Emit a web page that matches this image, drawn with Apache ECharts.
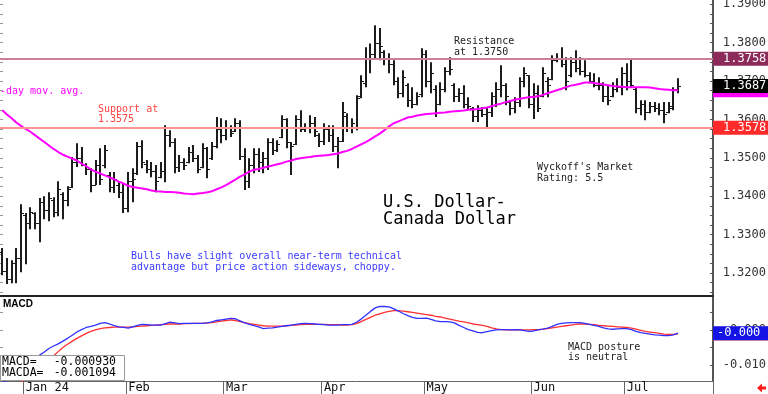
<!DOCTYPE html>
<html><head><meta charset="utf-8">
<script src="https://cdn.jsdelivr.net/npm/echarts@6/dist/echarts.min.js"></script>
<style>html,body{margin:0;padding:0;background:#fff}#c{width:768px;height:394px}</style>
</head><body><div id="c"></div>
<script>
// ---- data ----
const highs=[1.3265,1.3239,1.3233,1.3265,1.3379,1.3356,1.3371,1.3358,1.3395,1.3400,
1.3410,1.3397,1.3439,1.3410,1.3426,1.3502,1.3538,1.3528,1.3486,1.3473,
1.3494,1.3525,1.3533,1.3463,1.3463,1.3437,1.3434,1.3463,1.3473,1.3541,
1.3546,1.3494,1.3489,1.3481,1.3489,1.3585,1.3572,1.3551,1.3507,1.3499,
1.3528,1.3533,1.3507,1.3538,1.3528,1.3541,1.3606,1.3603,1.3598,1.3585,
1.3603,1.3598,1.3525,1.3499,1.3525,1.3525,1.3515,1.3551,1.3551,1.3546,
1.3611,1.3603,1.3541,1.3611,1.3624,1.3590,1.3611,1.3606,1.3564,1.3590,
1.3585,1.3585,1.3554,1.3645,1.3616,1.3603,1.3663,1.3715,1.3788,1.3798,
1.3845,1.3838,1.3780,1.3772,1.3754,1.3710,1.3728,1.3694,1.3684,1.3671,
1.3785,1.3780,1.3749,1.3689,1.3697,1.3736,1.3762,1.3694,1.3681,1.3689,
1.3658,1.3632,1.3637,1.3632,1.3632,1.3671,1.3697,1.3741,1.3694,1.3650,
1.3658,1.3710,1.3736,1.3715,1.3694,1.3689,1.3736,1.3710,1.3767,1.3772,
1.3788,1.3762,1.3762,1.3780,1.3762,1.3754,1.3723,1.3720,1.3710,1.3697,
1.3689,1.3697,1.3707,1.3736,1.3746,1.3757,1.3684,1.3650,1.3650,1.3645,
1.3645,1.3642,1.3645,1.3645,1.3684,1.3707];
const lows=[1.3194,1.3171,1.3173,1.3173,1.3202,1.3223,1.3314,1.3314,1.3280,1.3340,
1.3335,1.3345,1.3348,1.3340,1.3374,1.3421,1.3476,1.3478,1.3455,1.3410,
1.3429,1.3429,1.3473,1.3410,1.3408,1.3395,1.3356,1.3358,1.3384,1.3455,
1.3473,1.3460,1.3449,1.3410,1.3447,1.3436,1.3528,1.3460,1.3463,1.3468,
1.3486,1.3489,1.3460,1.3473,1.3447,1.3494,1.3525,1.3538,1.3546,1.3554,
1.3567,1.3494,1.3416,1.3421,1.3460,1.3463,1.3460,1.3468,1.3507,1.3515,
1.3551,1.3525,1.3455,1.3533,1.3567,1.3567,1.3564,1.3554,1.3528,1.3533,
1.3541,1.3515,1.3473,1.3541,1.3567,1.3564,1.3572,1.3655,1.3684,1.3720,
1.3759,1.3754,1.3741,1.3720,1.3689,1.3655,1.3658,1.3632,1.3629,1.3637,
1.3658,1.3684,1.3668,1.3606,1.3637,1.3671,1.3715,1.3645,1.3645,1.3629,
1.3624,1.3593,1.3593,1.3606,1.3577,1.3606,1.3632,1.3658,1.3637,1.3611,
1.3616,1.3632,1.3684,1.3629,1.3601,1.3619,1.3658,1.3658,1.3702,1.3749,
1.3736,1.3676,1.3710,1.3723,1.3715,1.3710,1.3694,1.3684,1.3676,1.3645,
1.3637,1.3658,1.3671,1.3663,1.3676,1.3684,1.3616,1.3611,1.3598,1.3616,
1.3619,1.3611,1.3590,1.3616,1.3624,1.3668];
const opens=[1.3255,1.3205,1.3185,1.3225,1.3240,1.3350,1.3330,1.3355,1.3330,1.3385,
1.3365,1.3390,1.3360,1.3405,1.3390,1.3425,1.3490,1.3500,1.3480,1.3470,
1.3430,1.3480,1.3480,1.3455,1.3425,1.3430,1.3410,1.3370,1.3440,1.3460,
1.3530,1.3485,1.3470,1.3465,1.3450,1.3465,1.3560,1.3540,1.3475,1.3490,
1.3490,1.3515,1.3500,1.3475,1.3525,1.3500,1.3530,1.3575,1.3560,1.3580,
1.3570,1.3590,1.3505,1.3440,1.3480,1.3510,1.3490,1.3500,1.3540,1.3520,
1.3555,1.3600,1.3540,1.3535,1.3600,1.3575,1.3580,1.3590,1.3560,1.3545,
1.3575,1.3560,1.3530,1.3545,1.3610,1.3580,1.3580,1.3660,1.3695,1.3760,
1.3770,1.3800,1.3775,1.3760,1.3745,1.3700,1.3670,1.3690,1.3650,1.3640,
1.3665,1.3770,1.3700,1.3680,1.3640,1.3680,1.3725,1.3690,1.3660,1.3670,
1.3640,1.3630,1.3610,1.3625,1.3615,1.3620,1.3660,1.3680,1.3690,1.3645,
1.3630,1.3645,1.3700,1.3715,1.3640,1.3670,1.3660,1.3700,1.3705,1.3755,
1.3760,1.3745,1.3715,1.3750,1.3735,1.3725,1.3715,1.3700,1.3690,1.3690,
1.3660,1.3660,1.3680,1.3685,1.3720,1.3700,1.3680,1.3630,1.3640,1.3620,
1.3635,1.3630,1.3625,1.3620,1.3630,1.3680];
const closes=[1.3205,1.3185,1.3225,1.3240,1.3355,1.3330,1.3360,1.3330,1.3385,1.3365,
1.3395,1.3360,1.3420,1.3390,1.3420,1.3490,1.3500,1.3485,1.3470,1.3430,
1.3480,1.3445,1.3520,1.3425,1.3445,1.3410,1.3370,1.3440,1.3445,1.3530,
1.3490,1.3470,1.3465,1.3440,1.3465,1.3560,1.3540,1.3475,1.3490,1.3480,
1.3515,1.3500,1.3470,1.3525,1.3470,1.3530,1.3575,1.3560,1.3580,1.3565,
1.3590,1.3505,1.3440,1.3480,1.3510,1.3490,1.3500,1.3540,1.3520,1.3535,
1.3600,1.3540,1.3530,1.3600,1.3575,1.3580,1.3590,1.3570,1.3545,1.3575,
1.3560,1.3530,1.3545,1.3620,1.3580,1.3590,1.3655,1.3700,1.3760,1.3770,
1.3800,1.3790,1.3760,1.3745,1.3700,1.3670,1.3710,1.3650,1.3640,1.3660,
1.3770,1.3700,1.3720,1.3620,1.3680,1.3725,1.3730,1.3660,1.3670,1.3640,
1.3635,1.3610,1.3625,1.3615,1.3620,1.3660,1.3680,1.3690,1.3660,1.3630,
1.3645,1.3700,1.3720,1.3640,1.3670,1.3630,1.3720,1.3690,1.3755,1.3760,
1.3745,1.3700,1.3750,1.3735,1.3725,1.3715,1.3700,1.3690,1.3690,1.3660,
1.3650,1.3680,1.3685,1.3720,1.3700,1.3690,1.3630,1.3640,1.3620,1.3635,
1.3630,1.3625,1.3615,1.3635,1.3680,1.3687];
const movAvg=[1.3624,1.3613,1.3603,1.3592,1.3583,1.3575,1.3568,1.3559,1.3550,1.3541,
1.3532,1.3523,1.3515,1.3508,1.3503,1.3498,1.3493,1.3485,1.3478,1.3470,
1.3464,1.3459,1.3454,1.3449,1.3444,1.3438,1.3433,1.3427,1.3424,1.3422,
1.3420,1.3418,1.3415,1.3413,1.3412,1.3411,1.3411,1.3410,1.3409,1.3407,
1.3406,1.3405,1.3407,1.3408,1.3410,1.3413,1.3418,1.3423,1.3429,1.3436,
1.3443,1.3451,1.3457,1.3464,1.3469,1.3471,1.3474,1.3477,1.3480,1.3483,
1.3486,1.3490,1.3493,1.3497,1.3499,1.3501,1.3502,1.3504,1.3505,1.3506,
1.3507,1.3509,1.3511,1.3515,1.3518,1.3523,1.3529,1.3535,1.3541,1.3548,
1.3556,1.3563,1.3572,1.3582,1.3590,1.3595,1.3600,1.3605,1.3607,1.3610,
1.3612,1.3614,1.3615,1.3616,1.3617,1.3618,1.3620,1.3621,1.3622,1.3623,
1.3625,1.3626,1.3627,1.3629,1.3631,1.3634,1.3638,1.3641,1.3645,1.3648,
1.3651,1.3654,1.3656,1.3658,1.3659,1.3660,1.3664,1.3668,1.3672,1.3676,
1.3680,1.3684,1.3688,1.3690,1.3693,1.3696,1.3696,1.3695,1.3693,1.3691,
1.3689,1.3687,1.3686,1.3685,1.3684,1.3684,1.3684,1.3684,1.3684,1.3683,
1.3681,1.3679,1.3678,1.3677,1.3676,1.3676];
const macd=[-0.0150,-0.0145,-0.0140,-0.0132,-0.0125,-0.0115,-0.0100,-0.0088,-0.0072,-0.0063,
-0.0053,-0.0046,-0.0040,-0.0032,-0.0024,-0.0015,-0.0006,0.0001,0.0007,0.0010,
0.0014,0.0019,0.0021,0.0017,0.0012,0.0009,0.0007,0.0005,0.0009,0.0013,
0.0016,0.0015,0.0014,0.0014,0.0014,0.0018,0.0022,0.0020,0.0018,0.0019,
0.0019,0.0019,0.0019,0.0019,0.0020,0.0023,0.0027,0.0029,0.0031,0.0033,
0.0032,0.0026,0.0020,0.0016,0.0012,0.0009,0.0004,0.0005,0.0006,0.0008,
0.0010,0.0012,0.0014,0.0016,0.0018,0.0019,0.0018,0.0017,0.0016,0.0015,
0.0014,0.0014,0.0014,0.0015,0.0015,0.0016,0.0022,0.0031,0.0042,0.0053,
0.0063,0.0067,0.0067,0.0066,0.0060,0.0054,0.0047,0.0041,0.0036,0.0033,
0.0033,0.0034,0.0030,0.0026,0.0024,0.0024,0.0023,0.0020,0.0013,0.0007,
0.0001,-0.0003,-0.0007,-0.0008,-0.0005,-0.0002,0.0000,0.0001,0.0001,0.0000,
0.0001,0.0000,-0.0002,-0.0004,-0.0003,0.0000,0.0002,0.0005,0.0010,0.0016,
0.0019,0.0020,0.0021,0.0021,0.0021,0.0019,0.0016,0.0013,0.0010,0.0006,
0.0003,0.0002,0.0003,0.0004,0.0004,0.0001,-0.0004,-0.0008,-0.0010,-0.0012,
-0.0014,-0.0015,-0.0016,-0.0016,-0.0014,-0.00093];
const macdAvg=[-0.0175,-0.0170,-0.0165,-0.0158,-0.0150,-0.0142,-0.0132,-0.0122,-0.0112,-0.0101,
-0.0090,-0.0074,-0.0062,-0.0050,-0.0041,-0.0032,-0.0024,-0.0017,-0.0010,-0.0004,
0.0000,0.0004,0.0006,0.0007,0.0008,0.0008,0.0008,0.0008,0.0009,0.0010,
0.0011,0.0012,0.0013,0.0014,0.0015,0.0016,0.0017,0.0017,0.0017,0.0018,
0.0018,0.0019,0.0019,0.0019,0.0020,0.0021,0.0023,0.0025,0.0027,0.0029,
0.0027,0.0024,0.0021,0.0018,0.0016,0.0014,0.0012,0.0011,0.0011,0.0011,
0.0011,0.0012,0.0013,0.0014,0.0015,0.0016,0.0016,0.0016,0.0016,0.0016,
0.0015,0.0015,0.0015,0.0014,0.0014,0.0015,0.0018,0.0024,0.0030,0.0036,
0.0042,0.0046,0.0050,0.0053,0.0055,0.0055,0.0054,0.0052,0.0050,0.0048,
0.0046,0.0044,0.0042,0.0039,0.0037,0.0034,0.0031,0.0028,0.0025,0.0023,
0.0020,0.0017,0.0015,0.0013,0.0010,0.0006,0.0003,0.0001,0.0000,0.0000,
0.0000,0.0000,0.0000,0.0000,0.0001,0.0001,0.0002,0.0004,0.0006,0.0008,
0.0010,0.0012,0.0014,0.0016,0.0017,0.0017,0.0016,0.0015,0.0013,0.0012,
0.0011,0.0010,0.0009,0.0008,0.0007,0.0005,0.0002,-0.0001,-0.0004,-0.0006,
-0.0008,-0.0010,-0.0012,-0.0013,-0.0013,-0.001094];
const resistanceLevel=1.3758;
const supportLevel=1.3578;
const priceTickLabels=[1.32,1.33,1.34,1.35,1.36,1.37,1.38,1.39];
const macdTickLabels=[-0.01,0];
const monthNames=['Jan','Feb','Mar','Apr','May','Jun','Jul','Aug','Sep','Oct','Nov','Dec'];

// trading-day calendar (weekdays, Dec 25 / Jan 1 closed), plus empty future slots
const SLOTS=153;
const categories=[];
(function(){
  let d=new Date(Date.UTC(2023,11,22));
  while(categories.length<SLOTS){
    const wd=d.getUTCDay(), m=d.getUTCMonth(), dd=d.getUTCDate();
    const holiday=(m===11&&dd===25)||(m===0&&dd===1);
    if(wd>0&&wd<6&&!holiday){
      categories.push(d.getUTCFullYear()+'-'+String(m+1).padStart(2,'0')+'-'+String(dd).padStart(2,'0'));
    }
    d=new Date(d.getTime()+86400000);
  }
})();
const isMonthStart=(i)=>i>0&&categories[i].slice(5,7)!==categories[i-1].slice(5,7);

const minorPrice=[];for(let k=0;k<=32;k++)minorPrice.push(+(1.3150+k*0.0025).toFixed(4));
const minorMacd=[-0.01,-0.005,0,0.005];

const PMIN=1.3140,PMAX=1.3911,MMIN=-0.0146,MMAX=0.0097;
const FONT='DejaVu Sans Mono';
const HIDDEN='rgba(0,0,0,0)';

const ohlc=highs.map((h,i)=>[i,opens[i],h,lows[i],closes[i]]);

function T(x,y,text,color,size,extra){
  return {type:'text',x:x,y:y,z:100,silent:true,
    style:{text:text,fill:color,font:(extra&&extra.weight?extra.weight+' ':'')+size+'px '+((extra&&extra.family)||FONT),
      textVerticalAlign:'middle',textAlign:(extra&&extra.align)||'left'}};
}
function boxLabel(bg,fg,pad){
  return {show:true,position:'end',distance:0,color:fg,backgroundColor:bg,
    fontFamily:FONT,fontSize:12,lineHeight:13,padding:pad||[1,3,0,10],
    formatter:(p)=>Number(p.value).toFixed(4)};
}
const macdFmt=(p)=>{const v=Number(p.value);const t=Math.trunc(v*1000)/1000;return (v<0?'-':'')+Math.abs(t).toFixed(3);};

const chart=echarts.init(document.getElementById('c'),null,{renderer:'canvas'});
chart.setOption({
  animation:false,
  backgroundColor:'#fff',
  grid:[
    {left:0,right:55,top:0,height:296,containLabel:false,outerBoundsMode:'none'},
    {left:0,right:55,top:296,height:85,containLabel:false,outerBoundsMode:'none'}
  ],
  xAxis:[
    {type:'category',gridIndex:0,data:categories,boundaryGap:true,position:'bottom',
      axisLine:{show:true,onZero:false,lineStyle:{color:'#222',width:2}},axisTick:{show:false},axisLabel:{show:false},splitLine:{show:false}},
    {type:'category',gridIndex:1,data:categories,boundaryGap:true,position:'bottom',
      axisLine:{show:true,onZero:false,lineStyle:{color:'#666',width:1}},
      axisTick:{show:true,interval:(i)=>isMonthStart(i),length:13,lineStyle:{color:'#666',width:1}},
      axisLabel:{show:true,interval:(i)=>isMonthStart(i),align:'left',margin:1,color:'#111',fontFamily:FONT,fontSize:12,
        formatter:(v)=>{const m=+v.slice(5,7)-1;return m===0?monthNames[m]+' '+v.slice(2,4):monthNames[m];}},
      splitLine:{show:false}}
  ],
  yAxis:[
    {type:'value',gridIndex:0,position:'right',min:PMIN,max:PMAX,
      axisLine:{show:true,lineStyle:{color:'#555',width:2}},
      axisTick:{show:true,inside:true,length:3,customValues:minorPrice,lineStyle:{color:'#555'}},
      axisLabel:{show:true,customValues:priceTickLabels,align:'right',margin:53,color:'#333',fontFamily:FONT,fontSize:12,
        formatter:(v)=>Number(v).toFixed(4)},
      splitLine:{show:false}},
    {type:'value',gridIndex:0,position:'left',min:PMIN,max:PMAX,
      axisLine:{show:false},
      axisTick:{show:true,inside:true,length:3,customValues:minorPrice,lineStyle:{color:'#999'}},
      axisLabel:{show:false},splitLine:{show:false}},
    {type:'value',gridIndex:1,position:'right',min:MMIN,max:MMAX,
      axisLine:{show:true,lineStyle:{color:'#555',width:2}},
      axisTick:{show:true,inside:true,length:3,customValues:minorMacd,lineStyle:{color:'#555'}},
      axisLabel:{show:true,customValues:macdTickLabels,align:'right',margin:53,color:'#333',fontFamily:FONT,fontSize:12,
        formatter:(v)=>Number(v).toFixed(3)},
      splitLine:{show:false}},
    {type:'value',gridIndex:1,position:'left',min:MMIN,max:MMAX,
      axisLine:{show:false},
      axisTick:{show:true,inside:true,length:3,customValues:minorMacd,lineStyle:{color:'#999'}},
      axisLabel:{show:false},splitLine:{show:false}}
  ],
  series:[
    {type:'custom',name:'USD/CAD',xAxisIndex:0,yAxisIndex:0,z:2,clip:true,
      data:ohlc,encode:{x:0,y:[1,2,3,4]},
      renderItem:function(params,api){
        const i=api.value(0);
        const ph=api.coord([i,api.value(2)]),pl=api.coord([i,api.value(3)]);
        const po=api.coord([i,api.value(1)]),pc=api.coord([i,api.value(4)]);
        const x=Math.round(ph[0]);
        const c='#1c1c1c';
        return {type:'group',children:[
          {type:'line',shape:{x1:x,y1:ph[1],x2:x,y2:pl[1]},style:{stroke:c,lineWidth:2}},
          {type:'line',shape:{x1:x-3,y1:Math.round(po[1])+0.5,x2:x,y2:Math.round(po[1])+0.5},style:{stroke:c,lineWidth:1}},
          {type:'line',shape:{x1:x,y1:Math.round(pc[1])+0.5,x2:x+3,y2:Math.round(pc[1])+0.5},style:{stroke:c,lineWidth:1}}
        ]};
      }},
    {type:'line',name:'mov avg',xAxisIndex:0,yAxisIndex:0,z:3,data:movAvg,symbol:'none',smooth:false,
      lineStyle:{color:'#ff00ff',width:2},
      markLine:{symbol:'none',silent:true,animation:false,precision:4,
        data:[
          {yAxis:resistanceLevel,lineStyle:{color:'#c9809c',width:2,type:'solid'},label:boxLabel('#8c2a5a','#fff')},
          {yAxis:supportLevel,lineStyle:{color:'#ff9494',width:2,type:'solid'},label:boxLabel('#ff2a2a','#fff')},
          {yAxis:movAvg[movAvg.length-1],lineStyle:{color:HIDDEN,width:1},label:boxLabel('#ff00ff','#fff')},
          {yAxis:closes[closes.length-1],lineStyle:{color:HIDDEN,width:1},label:boxLabel('#000','#fff')}
        ]}},
    {type:'line',name:'MACDA',xAxisIndex:1,yAxisIndex:2,z:3,data:macdAvg,symbol:'none',
      lineStyle:{color:'#ff3030',width:1.3},
      markLine:{symbol:'none',silent:true,animation:false,precision:6,
        data:[{yAxis:macdAvg[macdAvg.length-1],lineStyle:{color:HIDDEN,width:1},
          label:Object.assign(boxLabel('#ff8a8a','#fff',[1,8,0,4]),{formatter:macdFmt})}]}},
    {type:'line',name:'MACD',xAxisIndex:1,yAxisIndex:2,z:4,data:macd,symbol:'none',
      lineStyle:{color:'#3030ff',width:1.3},
      markLine:{symbol:'none',silent:true,animation:false,precision:6,
        data:[{yAxis:macd[macd.length-1],lineStyle:{color:HIDDEN,width:1},
          label:Object.assign(boxLabel('#1414e6','#fff',[1,8,0,4]),{formatter:macdFmt})}]}}
  ],
  graphic:[
    T(0,91,'-day mov. avg.','#ff00ff',10),
    T(98,109,'Support at','#ff4040',10),
    T(98,119,'1.3575','#ff4040',10),
    T(454,41,'Resistance','#222',10),
    T(454,52,'at 1.3750','#222',10),
    T(537,167,"Wyckoff's Market",'#222',10),
    T(537,178,'Rating: 5.5','#222',10),
    T(383,203,'U.S. Dollar-','#000',17),
    T(383,220,'Canada Dollar','#000',17),
    T(131,256,'Bulls have slight overall near-term technical','#3a3aff',10),
    T(131,267,'advantage but price action sideways, choppy.','#3a3aff',10),
    T(3,304,'MACD','#000',10,{weight:'bold',family:'Liberation Sans'}),
    T(568,347,'MACD posture','#222',10),
    T(568,357,'is neutral','#222',10),
    {type:'rect',z:99,silent:true,shape:{x:0.5,y:355.5,width:124,height:25},style:{fill:'#fff',stroke:'#9a9a9a',lineWidth:1}},
    T(2,362,'MACD=','#000',11.5),
    T(116,362,'-0.000930','#000',11.5,{align:'right'}),
    T(2,373,'MACDA=','#000',11.5),
    T(116,373,'-0.001094','#000',11.5,{align:'right'}),
    {type:'polygon',z:100,silent:true,shape:{points:[[757,388],[762,383.5],[762,386.5],[766,386.5],[766,389.5],[762,389.5],[762,392.5]]},style:{fill:'#ff1a1a'}}
  ]
});
</script></body></html>
